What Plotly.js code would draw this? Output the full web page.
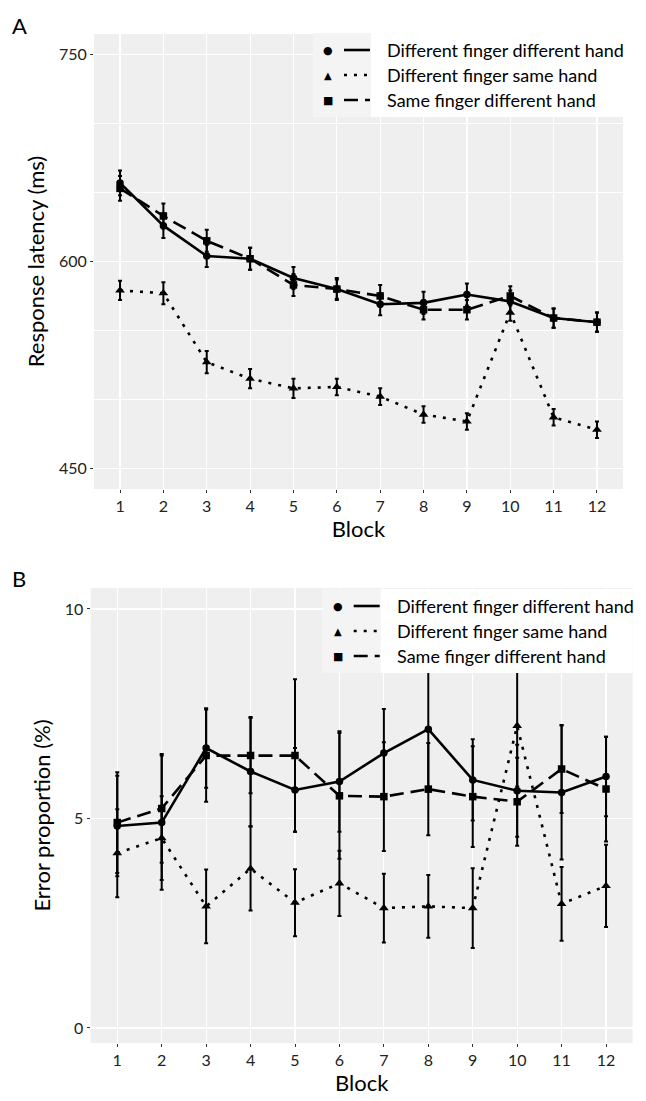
<!DOCTYPE html>
<html><head><meta charset="utf-8">
<script src="https://cdn.plot.ly/plotly-3.0.1.min.js"></script>
<style>html,body{margin:0;padding:0;background:#fff;}#chart{width:646px;height:1101px;}</style>
</head><body><div id="chart"></div>
<script>
// ---- data ----
const blocks = [1,2,3,4,5,6,7,8,9,10,11,12];
const seriesNames = ["Different finger different hand","Different finger same hand","Same finger different hand"];
// Panel A: response latency (ms)
const rtDfdh = [657, 626, 604, 602, 588, 580, 569, 570, 576, 571, 559, 556];
const rtDfsh = [579, 577, 527, 515, 508, 509, 502, 489, 484, 563, 487, 478];
const rtSfdh = [653, 633, 615, 602, 583, 580, 575, 565, 565, 575, 559, 556];
const rtErrDfdh = [9, 9, 8, 8, 8, 8, 8, 8, 8, 8, 7, 7];
const rtErrDfsh = [7, 8, 8, 7, 7, 6, 6, 6, 6, 6, 6, 6];
const rtErrSfdh = [9, 9, 8, 8, 8, 7, 8, 7, 7, 7, 7, 7];
// Panel B: error proportion (%)
const erDfdh = [4.82, 4.90, 6.68, 6.12, 5.68, 5.88, 6.56, 7.13, 5.92, 5.66, 5.62, 6.00];
const erDfsh = [4.17, 4.53, 2.90, 3.80, 2.99, 3.45, 2.86, 2.90, 2.86, 7.21, 2.96, 3.39];
const erSfdh = [4.90, 5.24, 6.50, 6.50, 6.50, 5.54, 5.52, 5.70, 5.52, 5.40, 6.18, 5.70];
const erErrDfdh = [1.2, 1.6, 0.95, 1.3, 1.0, 1.2, 1.05, 1.5, 0.97, 1.1, 1.6, 0.95];
const erErrDfsh = [1.05, 1.0, 0.88, 1.0, 0.8, 0.78, 0.82, 0.75, 0.95, 1.45, 0.88, 0.98];
const erErrSfdh = [1.2, 1.3, 1.1, 0.9, 1.82, 1.5, 1.3, 1.1, 1.2, 1.05, 1.05, 1.25];
const yTicksA = [450, 600, 750];
const yTicksB = [0, 5, 10];

// ---- layout geometry (pixels) ----
const W = 646, H = 1101;
const px = v => v / W, py = v => 1 - v / H;
const FONT = "Lato, 'Open Sans', sans-serif";

const styles = [
  {dash: "solid", symbol: "circle", size: 7.5},
  {dash: "3px,7px", symbol: "triangle-up", size: 8.5},
  {dash: "14px,7px", symbol: "square", size: 7.5}
];

function mk(x, y, err, i, xa, ya) {
  return {
    x: x, y: y, type: "scatter", mode: "lines+markers", xaxis: xa, yaxis: ya,
    name: seriesNames[i], showlegend: false,
    line: {color: "#000", width: 2.6, dash: styles[i].dash},
    marker: {color: "#000", symbol: styles[i].symbol, size: styles[i].size},
    error_y: {type: "data", array: err, visible: true, color: "#000", thickness: 2, width: 2}
  };
}

const data = [
  mk(blocks, rtDfdh, rtErrDfdh, 0, "x", "y"),
  mk(blocks, rtDfsh, rtErrDfsh, 1, "x", "y"),
  mk(blocks, rtSfdh, rtErrSfdh, 2, "x", "y"),
  mk(blocks, erDfdh, erErrDfdh, 0, "x2", "y2"),
  mk(blocks, erDfsh, erErrDfsh, 1, "x2", "y2"),
  mk(blocks, erSfdh, erErrSfdh, 2, "x2", "y2")
];

const axFont = {family: FONT, size: 16, color: "#222"};
const titleFont = {family: FONT, size: 22, color: "#000"};
function xax(domain, anchor) {
  return {domain: domain, anchor: anchor, range: [0.4, 12.6], tickvals: blocks, ticktext: blocks.map(String),
    showgrid: true, gridcolor: "#fff", gridwidth: 1.2, zeroline: false, showline: false,
    ticks: "outside", ticklen: 3, tickcolor: "#333", tickfont: axFont,
    title: {text: "Block", font: titleFont, standoff: 3}};
}
function yax(domain, anchor, range, ticks, minorD, title) {
  return {domain: domain, anchor: anchor, range: range, tickvals: ticks, ticktext: ticks.map(String),
    showgrid: true, gridcolor: "#fff", gridwidth: 1.2, zeroline: false, showline: false,
    minor: {dtick: minorD, tick0: 0, showgrid: true, gridcolor: "#fff", gridwidth: 1.2},
    ticks: "outside", ticklen: 3, tickcolor: "#333", tickfont: axFont,
    title: {text: title, font: titleFont, standoff: 8}};
}

// panel rectangles
const A = {l: 94, r: 623, t: 34, b: 489};
const B = {l: 90.6, r: 632.7, t: 588, b: 1043};

const shapes = [], annotations = [];
annotations.push({xref: "paper", yref: "paper", x: px(10), y: py(25), text: "A", showarrow: false,
  xanchor: "left", yanchor: "middle", font: {family: FONT, size: 22, color: "#000"}});
annotations.push({xref: "paper", yref: "paper", x: px(10), y: py(578), text: "B", showarrow: false,
  xanchor: "left", yanchor: "middle", font: {family: FONT, size: 22, color: "#000"}});

function legend(right, top) {
  const left = right - 310, keyW = 58, rowH = 25, h = 84;
  shapes.push({type: "rect", xref: "paper", yref: "paper", x0: px(left), x1: px(right), y0: py(top + h), y1: py(top),
    fillcolor: "#fff", line: {width: 0}, layer: "above"});
  shapes.push({type: "rect", xref: "paper", yref: "paper", x0: px(left), x1: px(left + keyW), y0: py(top + h), y1: py(top),
    fillcolor: "#f4f4f4", line: {width: 0}, layer: "above"});
  const syms = ["\u25CF", "\u25B2", "\u25A0"];
  const symSize = [11, 10, 11];
  for (let i = 0; i < 3; i++) {
    const yc = top + 17 + i * rowH;
    annotations.push({xref: "paper", yref: "paper", x: px(left + 15), y: py(yc), text: syms[i], showarrow: false,
      xanchor: "center", yanchor: "middle", font: {family: "DejaVu Sans", size: symSize[i], color: "#000"}});
    shapes.push({type: "line", xref: "paper", yref: "paper", x0: px(left + 31), x1: px(left + 57), y0: py(yc), y1: py(yc),
      line: {color: "#000", width: 2.6, dash: styles[i].dash}, layer: "above"});
    annotations.push({xref: "paper", yref: "paper", x: px(left + 72), y: py(yc), text: seriesNames[i], showarrow: false,
      xanchor: "left", yanchor: "middle", font: {family: FONT, size: 18, color: "#000"}});
  }
}
legend(A.r, 33);
legend(B.r, 589);

const layout = {
  width: W, height: H, margin: {l: 0, r: 0, t: 0, b: 0},
  paper_bgcolor: "#fff", plot_bgcolor: "#efefef", showlegend: false,
  xaxis: xax([px(A.l), px(A.r)], "y"),
  yaxis: yax([py(A.b), py(A.t)], "x", [435, 765], yTicksA, 50, "Response latency (ms)"),
  xaxis2: xax([px(B.l), px(B.r)], "y2"),
  yaxis2: yax([py(B.b), py(B.t)], "x2", [-0.36, 10.5], yTicksB, 5, "Error proportion (%)"),
  shapes: shapes, annotations: annotations
};

Plotly.newPlot("chart", data, layout, {staticPlot: true, displayModeBar: false});
</script></body></html>
